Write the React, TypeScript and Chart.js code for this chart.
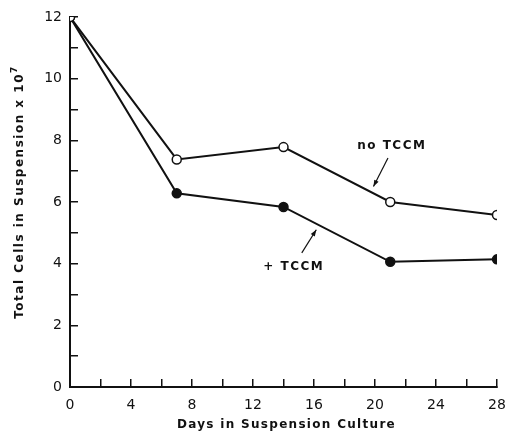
import React, { useEffect, useRef } from "react";
import { Chart, registerables } from "chart.js";

Chart.register(...registerables);

const days = [0, 7, 14, 21, 28];
const noTCCM = [12, 7.38, 7.78, 6.0, 5.58];
const plusTCCM = [12, 6.28, 5.84, 4.06, 4.14];
const xTickLabels = [0, 4, 8, 12, 16, 20, 24, 28];
const yTickLabels = [0, 2, 4, 6, 8, 10, 12];
const xTitle = "Days in Suspension Culture";
const yTitle = "Total Cells in Suspension x 10";
const yTitleSup = "7";
// annotations in data coordinates: label, label position, arrow start, arrow end
const annotations = [
  { text: "no TCCM", at: [21.1, 7.82], from: [20.85, 7.43], to: [19.9, 6.5] },
  { text: "+ TCCM", at: [14.67, 3.9], from: [15.2, 4.35], to: [16.15, 5.1] },
];

const FONT = "'DejaVu Sans', sans-serif";

const annotationPlugin = {
  id: "annot",
  afterDatasetsDraw(chart: any) {
    const { ctx, scales } = chart;
    const xs = scales.x, ys = scales.y;
    ctx.save();
    ctx.fillStyle = "#111";
    ctx.strokeStyle = "#111";
    ctx.font = `bold 12px ${FONT}`;
    (ctx as any).letterSpacing = "1.5px";
    ctx.textAlign = "center";
    ctx.textBaseline = "middle";
    for (const a of annotations) {
      ctx.fillText(a.text, xs.getPixelForValue(a.at[0]), ys.getPixelForValue(a.at[1]));
      const x1 = xs.getPixelForValue(a.from[0]), y1 = ys.getPixelForValue(a.from[1]);
      const x2 = xs.getPixelForValue(a.to[0]), y2 = ys.getPixelForValue(a.to[1]);
      ctx.lineWidth = 1.2;
      ctx.beginPath();
      ctx.moveTo(x1, y1);
      ctx.lineTo(x2, y2);
      ctx.stroke();
      const ang = Math.atan2(y2 - y1, x2 - x1);
      const L = 7, W = 0.35;
      ctx.beginPath();
      ctx.moveTo(x2, y2);
      ctx.lineTo(x2 - L * Math.cos(ang - W), y2 - L * Math.sin(ang - W));
      ctx.lineTo(x2 - L * Math.cos(ang + W), y2 - L * Math.sin(ang + W));
      ctx.closePath();
      ctx.fill();
    }
    // axis titles
    (ctx as any).letterSpacing = "1.3px";
    ctx.font = `bold 12px ${FONT}`;
    ctx.textAlign = "center";
    ctx.textBaseline = "middle";
    const cx = (chart.chartArea.left + chart.chartArea.right) / 2;
    ctx.fillText(xTitle, cx + 3, 425);
    (ctx as any).letterSpacing = "1.5px";
    ctx.save();
    ctx.translate(20, (chart.chartArea.top + chart.chartArea.bottom) / 2 - 10);
    ctx.rotate(-Math.PI / 2);
    const w = ctx.measureText(yTitle).width;
    ctx.font = `bold 9px ${FONT}`;
    const ws = ctx.measureText(yTitleSup).width;
    const total = w + ws;
    ctx.font = `bold 12px ${FONT}`;
    ctx.textAlign = "left";
    ctx.fillText(yTitle, -total / 2, 0);
    ctx.font = `bold 9px ${FONT}`;
    ctx.fillText(yTitleSup, -total / 2 + w, -5);
    ctx.restore();
    ctx.restore();
  },
};

export default function App() {
  const ref = useRef<HTMLCanvasElement>(null);
  useEffect(() => {
    document.body.style.margin = "0";
    const mk = (color: string, fill: string) => ({
      borderColor: color,
      backgroundColor: fill,
      pointBackgroundColor: fill,
      pointBorderColor: color,
      pointRadius: 4.5,
      pointBorderWidth: 1.5,
      borderWidth: 2,
      tension: 0,
    });
    const chart = new Chart(ref.current!, {
      type: "line",
      data: {
        datasets: [
          { label: "no TCCM", data: days.map((d, i) => ({ x: d, y: noTCCM[i] })), ...mk("#111", "#fff") },
          { label: "+TCCM", data: days.map((d, i) => ({ x: d, y: plusTCCM[i] })), ...mk("#111", "#111") },
        ],
      },
      options: {
        animation: false,
        responsive: false,
        layout: { padding: { top: 17, right: 11, left: 0, bottom: 0 } },
        plugins: { legend: { display: false }, tooltip: { enabled: false } },
        scales: {
          x: {
            type: "linear",
            min: 0,
            max: 28,
            afterFit: (s: any) => { s.height = 51; s.paddingLeft = 0; s.paddingRight = 0; },
            ticks: {
              stepSize: 2,
              autoSkip: false,
              maxRotation: 0,
              color: "#111",
              padding: 18,
              font: { family: FONT, size: 14 },
              callback: (v: any) => (xTickLabels.includes(Number(v)) ? String(v) : ""),
            },
            grid: { drawOnChartArea: false, drawTicks: true, tickLength: -8, color: "#111", lineWidth: 1.5 },
            border: { display: true, color: "#111", width: 2 },
          },
          y: {
            type: "linear",
            min: 0,
            max: 12,
            afterFit: (s: any) => { s.width = 70; s.paddingTop = 0; s.paddingBottom = 0; },
            ticks: {
              stepSize: 1,
              autoSkip: false,
              color: "#111",
              padding: 16,
              font: { family: FONT, size: 14 },
              callback: (v: any) => (yTickLabels.includes(Number(v)) ? String(v) : ""),
            },
            grid: { drawOnChartArea: false, drawTicks: true, tickLength: -8, color: "#111", lineWidth: 1.5 },
            border: { display: true, color: "#111", width: 2 },
          },
        },
      },
      plugins: [annotationPlugin],
    });
    return () => chart.destroy();
  }, []);
  return (
    <div style={{ position: "fixed", left: 0, top: 0, width: 508, height: 438, background: "#fff" }}>
      <canvas ref={ref} width={508} height={438} style={{ width: 508, height: 438 }} />
    </div>
  );
}
